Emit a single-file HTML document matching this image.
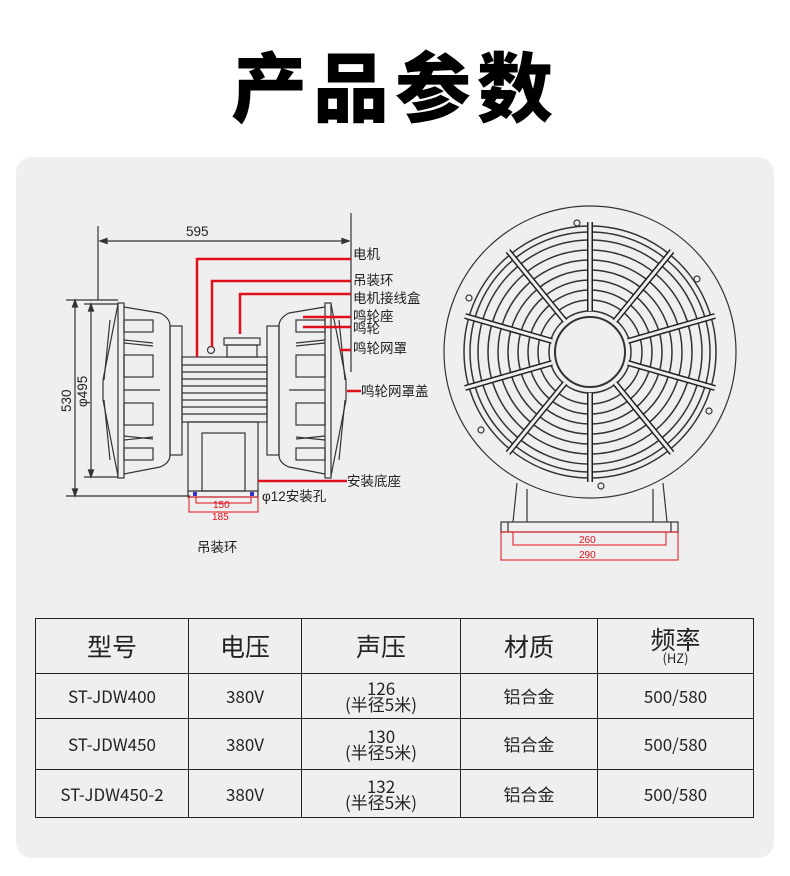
<!DOCTYPE html>
<html><head><meta charset="utf-8"><style>
body{margin:0;width:790px;height:876px;background:#fff;position:relative;font-family:"Liberation Sans","Noto Sans CJK SC",sans-serif;overflow:hidden}
.title{position:absolute;left:0;width:790px;top:28px;text-align:center;font-size:76px;font-weight:900;letter-spacing:6px;color:#000;font-family:"Noto Sans CJK SC",sans-serif}
.panel{position:absolute;left:16px;top:157px;width:758px;height:701px;background:#efefef;border-radius:16px}
svg{position:absolute;left:0;top:0}
table{position:absolute;left:35px;top:618px;width:719px;border-collapse:collapse;font-family:"Noto Sans CJK SC",sans-serif;color:#222;table-layout:fixed}
td{border:1.5px solid #222;text-align:center;padding:0;font-size:17px;line-height:16px;overflow:hidden}
tr.h td{font-size:25px;line-height:24px}
</style></head><body>
<div class="title">产品参数</div>
<div class="panel"></div>
<svg width="790" height="876" viewBox="0 0 790 876">
<g fill="none" stroke="#333" stroke-width="1.2">
<line x1="98" y1="226" x2="98" y2="300"/><line x1="351" y1="213" x2="351" y2="372"/>
<line x1="100" y1="241" x2="349" y2="241"/>
<path d="M100 241 l7 -2.5 v5z M349 241 l-7 -2.5 v5z" fill="#333"/>
<line x1="75" y1="300" x2="75" y2="496"/><line x1="66" y1="300" x2="118" y2="300"/><line x1="66" y1="496" x2="190" y2="496"/>
<line x1="91" y1="304" x2="91" y2="477"/><line x1="84" y1="304" x2="118" y2="304"/><line x1="84" y1="477" x2="118" y2="477"/>
<path d="M75 300 l-2.5 7 h5z M75 496 l-2.5 -7 h5z M91 304 l-2.5 7 h5z M91 477 l-2.5 -7 h5z" fill="#333"/>
<g id="horn">
<path d="M118 304 L103 380 L103 400 L118 476"/>
<path d="M110 320 L104 380 M110 460 L104 400"/>
<rect x="118" y="303" width="6" height="175"/>
<path d="M124 307 L160 313 Q170 318 170 326 V455 Q170 463 160 467 L124 474"/>
<rect x="170" y="326" width="12" height="129"/>
<rect x="124" y="320" width="29" height="12"/><rect x="124" y="355" width="29" height="22"/>
<rect x="124" y="403" width="29" height="22"/><rect x="124" y="448" width="29" height="12"/>
<path d="M124 340 L153 343 M124 343 L153 346 M124 436 L153 439 M124 440 L153 437"/>
<line x1="124" y1="390" x2="160" y2="390"/>
</g>
<use href="#horn" transform="translate(449,0) scale(-1,1)"/>
<rect x="182" y="357" width="85" height="65"/>
<path d="M182 365 H267 M182 372 H267 M182 379 H267 M182 386 H267 M182 393 H267 M182 400 H267 M182 407 H267 M182 414 H267"/>
<rect x="224" y="338" width="36" height="7"/><rect x="227" y="345" width="30" height="12"/>
<circle cx="211" cy="350" r="3.5"/>
<rect x="188" y="422" width="70" height="75"/><rect x="202" y="433" width="43" height="58"/>
<line x1="188" y1="491" x2="258" y2="491"/>
<circle cx="590" cy="352" r="146"/>
<circle cx="590" cy="352" r="35" stroke-width="2"/><circle cx="590" cy="352" r="41" stroke-width="1.5"/>
<g stroke-width="1.5"><circle cx="590" cy="352" r="52"/><circle cx="590" cy="352" r="62"/><circle cx="590" cy="352" r="72"/><circle cx="590" cy="352" r="82"/><circle cx="590" cy="352" r="92"/><circle cx="590" cy="352" r="102"/><circle cx="590" cy="352" r="112"/><circle cx="590" cy="352" r="120"/><circle cx="590" cy="352" r="126"/></g>
<g stroke="#222" stroke-width="6">
<path d="M590 311 V222 M615 321 L672 251 M628 341 L715 316 M628 363 L715 388 M615 383 L672 453 M590 393 V482 M565 321 L508 251 M552 341 L465 316 M552 363 L465 388 M565 383 L508 453"/></g>
<g stroke="#efefef" stroke-width="3">
<path d="M590 311 V222 M615 321 L672 251 M628 341 L715 316 M628 363 L715 388 M615 383 L672 453 M590 393 V482 M565 321 L508 251 M552 341 L465 316 M552 363 L465 388 M565 383 L508 453"/></g>
<g stroke-width="1.2"><circle cx="577" cy="223" r="3"/><circle cx="697" cy="279" r="3"/><circle cx="709" cy="411" r="3"/><circle cx="601" cy="486" r="3"/><circle cx="481" cy="430" r="3"/><circle cx="469" cy="298" r="3"/></g>
<path d="M517 483 L513 522 M527 489 L527 522 M663 483 L667 522 M653 489 L653 522"/>
<rect x="501" y="522" width="177" height="10"/>
<line x1="508" y1="522" x2="508" y2="532"/><line x1="671" y1="522" x2="671" y2="532"/>
</g>
<g stroke="#e0101a" stroke-width="2.5" fill="none">
<path d="M197 357 V259 H351"/><path d="M212 347 V281 H351"/><path d="M240 334 V294 H351"/>
<path d="M303 317 H351 M303 327 H351 M340 350 H351 M347 391 H361 M258 481 H347"/>
</g>
<g stroke="#e0101a" stroke-width="1" fill="none">
<rect x="189" y="497" width="69" height="15"/><path d="M196 497 V503 H251 V497"/>
<rect x="501" y="532" width="177" height="28"/><path d="M513 532 V545 H666 V532"/>
</g>
<rect x="193" y="492" width="4" height="4" fill="#33c"/><rect x="250" y="492" width="4" height="4" fill="#33c"/>
<g font-family="Liberation Sans,Noto Sans CJK SC,sans-serif" font-size="13.5" fill="#222">
<text x="186" y="236">595</text>
<text transform="translate(71,412) rotate(-90)">530</text>
<text transform="translate(87,407) rotate(-90)">φ495</text>
<text x="353" y="259">电机</text><text x="353" y="285">吊装环</text><text x="353" y="303">电机接线盒</text>
<text x="353" y="321">鸣轮座</text><text x="353" y="333">鸣轮</text><text x="353" y="353">鸣轮网罩</text>
<text x="361" y="396">鸣轮网罩盖</text><text x="347" y="486">安装底座</text><text x="262" y="501">φ12安装孔</text>
<text x="197" y="552">吊装环</text>
</g>
<g font-family="Liberation Sans,sans-serif" font-size="10" fill="#e0101a">
<text x="213" y="508">150</text><text x="212" y="520">185</text>
<text x="579" y="543">260</text><text x="579" y="558">290</text>
</g>
</svg>
<table>
<colgroup><col style="width:153px"><col style="width:113px"><col style="width:159px"><col style="width:137px"><col></colgroup>
<tr class="h" style="height:55px"><td>型号</td><td>电压</td><td>声压</td><td>材质</td><td>频率<br><span style="font-size:13px;line-height:14px;display:block">(HZ)</span></td></tr>
<tr style="height:45px"><td>ST-JDW400</td><td>380V</td><td>126<br>(半径5米)</td><td>铝合金</td><td>500/580</td></tr>
<tr style="height:51px"><td>ST-JDW450</td><td>380V</td><td>130<br>(半径5米)</td><td>铝合金</td><td>500/580</td></tr>
<tr style="height:48px"><td>ST-JDW450-2</td><td>380V</td><td>132<br>(半径5米)</td><td>铝合金</td><td>500/580</td></tr>
</table>
</body></html>
